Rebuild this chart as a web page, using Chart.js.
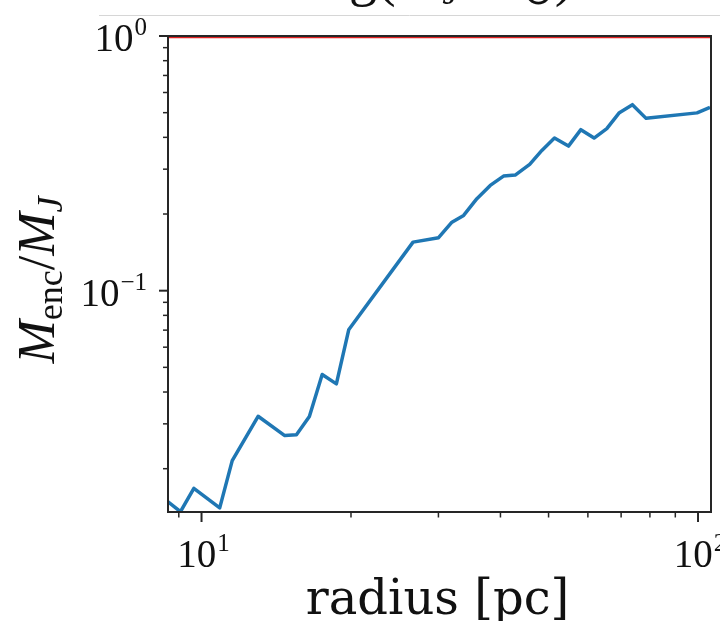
<!DOCTYPE html>
<html>
<head>
<meta charset="utf-8">
<script src="https://cdn.jsdelivr.net/npm/chart.js@4"></script>
<style>
  html, body { margin: 0; padding: 0; background: #fff; }
  #wrap { width: 720px; height: 621px; }
</style>
</head>
<body>
<div id="wrap"><canvas id="massChart" width="720" height="621"></canvas></div>
<script>
// enclosed mass over Jeans mass, binned in radius
const radiusPc = [8.55, 9.07, 9.65, 10.88, 11.53, 13.00, 14.71, 15.53, 16.49, 17.50,
    18.69, 19.79, 26.67, 30.02, 31.94, 33.72, 35.86, 38.15, 40.57, 42.83,
    45.81, 48.47, 51.39, 54.83, 58.08, 61.75, 65.50, 69.43, 73.76, 78.59,
    99.54, 105.7];
const massRatio = [0.01485, 0.01356, 0.01675, 0.01403, 0.02152, 0.03212, 0.02698, 0.02716, 0.03203, 0.04685,
    0.04307, 0.07022, 0.1551, 0.1614, 0.1858, 0.1975, 0.2297, 0.2590, 0.2818, 0.2844,
    0.3132, 0.3555, 0.3974, 0.3696, 0.4288, 0.3974, 0.4327, 0.5000, 0.5376, 0.4749,
    0.4991, 0.5245];
const unityLevel = 1;

const xLimits = [8.56, 106.2];
const yLimits = [0.01352, 1.0];
const xMajorTicks = [10, 100];
const xMinorTicks = [9, 20, 30, 40, 50, 60, 70, 80, 90];
const yMajorTicks = [0.1, 1];
const yMinorTicks = [0.02, 0.03, 0.04, 0.05, 0.06, 0.07, 0.08, 0.09,
    0.2, 0.3, 0.4, 0.5, 0.6, 0.7, 0.8, 0.9];

const MATH = '"Liberation Serif", "Times New Roman", serif';
const TEXT = '"DejaVu Serif", serif';
const INK = '#111';

function font(size, italic, family) {
    return (italic ? 'italic ' : '') + size + 'px ' + (family || MATH);
}

// mixed-size text, parts = [{t, s, it, dy}]
function richWidth(ctx, parts) {
    let w = 0;
    parts.forEach(p => {
        ctx.font = font(p.s, p.it);
        w += ctx.measureText(p.t).width;
    });
    return w;
}

function drawRich(ctx, parts, x, y) {
    ctx.textAlign = 'left';
    ctx.textBaseline = 'alphabetic';
    parts.forEach(p => {
        ctx.font = font(p.s, p.it);
        ctx.fillText(p.t, x, y + (p.dy || 0));
        x += ctx.measureText(p.t).width;
    });
}

function powerLabel(ctx, value, x, baseline, align) {
    const exp = Math.round(Math.log10(value));
    const sup = exp < 0 ? '\u2212' + Math.abs(exp) : String(exp);
    const parts = [{ t: '10', s: 39 }, { t: ' ', s: 4 }, { t: sup, s: 25, dy: -16 }];
    const w = richWidth(ctx, parts);
    const x0 = align === 'center' ? x - w / 2 : x - w;
    drawRich(ctx, parts, x0, baseline);
}

function tick(ctx, x1, y1, x2, y2) {
    ctx.beginPath();
    ctx.moveTo(x1, y1);
    ctx.lineTo(x2, y2);
    ctx.stroke();
}

const axisDecor = {
    id: 'axisDecor',
    beforeDraw(chart) {
        const ctx = chart.ctx;
        ctx.save();
        ctx.fillStyle = '#fff';
        ctx.fillRect(0, 0, chart.width, chart.height);
        ctx.restore();
    },
    afterDatasetsDraw(chart) {
        const { ctx, chartArea: a } = chart;
        const xs = chart.scales.x;
        const ys = chart.scales.y;
        ctx.save();

        // frame
        ctx.strokeStyle = '#262626';
        ctx.lineWidth = 2;
        ctx.strokeRect(a.left, a.top, a.right - a.left, a.bottom - a.top);

        // x ticks
        ctx.lineWidth = 2;
        xMajorTicks.forEach(v => {
            const px = xs.getPixelForValue(v);
            tick(ctx, px, a.bottom, px, a.bottom + 10);
        });
        ctx.lineWidth = 1.5;
        xMinorTicks.forEach(v => {
            const px = xs.getPixelForValue(v);
            tick(ctx, px, a.bottom, px, a.bottom + 5.5);
        });

        // y ticks
        ctx.lineWidth = 2;
        yMajorTicks.forEach(v => {
            const py = ys.getPixelForValue(v);
            tick(ctx, a.left, py, a.left - 9, py);
        });
        ctx.lineWidth = 1.5;
        yMinorTicks.forEach(v => {
            const py = ys.getPixelForValue(v);
            tick(ctx, a.left, py, a.left - 5, py);
        });

        // tick labels
        ctx.fillStyle = INK;
        xMajorTicks.forEach(v => {
            powerLabel(ctx, v, xs.getPixelForValue(v) + 2, a.bottom + 55, 'center');
        });
        yMajorTicks.forEach(v => {
            powerLabel(ctx, v, a.left - 21, ys.getPixelForValue(v) + 15, 'right');
        });

        // x axis title
        ctx.font = font(48, false, TEXT);
        ctx.textAlign = 'center';
        ctx.textBaseline = 'alphabetic';
        ctx.fillText('radius [pc]', (a.left + a.right) / 2 - 2, 614);

        // y axis title, rotated
        const yParts = [
            { t: 'M', s: 52, it: true },
            { t: 'enc', s: 36, dy: 8 },
            { t: '/', s: 52 },
            { t: 'M', s: 52, it: true },
            { t: 'J', s: 36, it: true, dy: 8 }
        ];
        ctx.save();
        ctx.translate(54, (a.top + a.bottom) / 2 + 6);
        ctx.rotate(-Math.PI / 2);
        drawRich(ctx, yParts, -richWidth(ctx, yParts) / 2, 0);
        ctx.restore();

        // panel title, mostly above the canvas edge
        const titleParts = [
            { t: 'log(', s: 56 },
            { t: 'M', s: 56, it: true },
            { t: 'J', s: 39, it: true, dy: 9 },
            { t: '/', s: 56 },
            { t: 'M', s: 56, it: true },
            { t: '\u2299', s: 39, dy: 9 },
            { t: ')', s: 56 }
        ];
        drawRich(ctx, titleParts, (a.left + a.right) / 2 - richWidth(ctx, titleParts) / 2, -5);

        // separator under the title
        ctx.strokeStyle = '#d6d6d6';
        ctx.lineWidth = 1;
        tick(ctx, 99, 15.5, chart.width, 15.5);

        ctx.restore();
    }
};

new Chart(document.getElementById('massChart'), {
    type: 'line',
    data: {
        datasets: [
            {
                data: radiusPc.map((r, i) => ({ x: r, y: massRatio[i] })),
                borderColor: '#1f77b4',
                borderWidth: 3.5,
                borderJoinStyle: 'round',
                pointRadius: 0,
                tension: 0,
                clip: 0
            },
            {
                data: xLimits.map(x => ({ x: x, y: unityLevel })),
                borderColor: '#e02020',
                borderWidth: 4.5,
                pointRadius: 0,
                clip: 0
            }
        ]
    },
    options: {
        responsive: false,
        animation: false,
        devicePixelRatio: 1,
        layout: { padding: { left: 168, top: 36, right: 9, bottom: 109 } },
        scales: {
            x: { type: 'logarithmic', min: xLimits[0], max: xLimits[1], display: false },
            y: { type: 'logarithmic', min: yLimits[0], max: yLimits[1], display: false }
        },
        plugins: {
            legend: { display: false },
            tooltip: { enabled: false }
        }
    },
    plugins: [axisDecor]
});
</script>
</body>
</html>
